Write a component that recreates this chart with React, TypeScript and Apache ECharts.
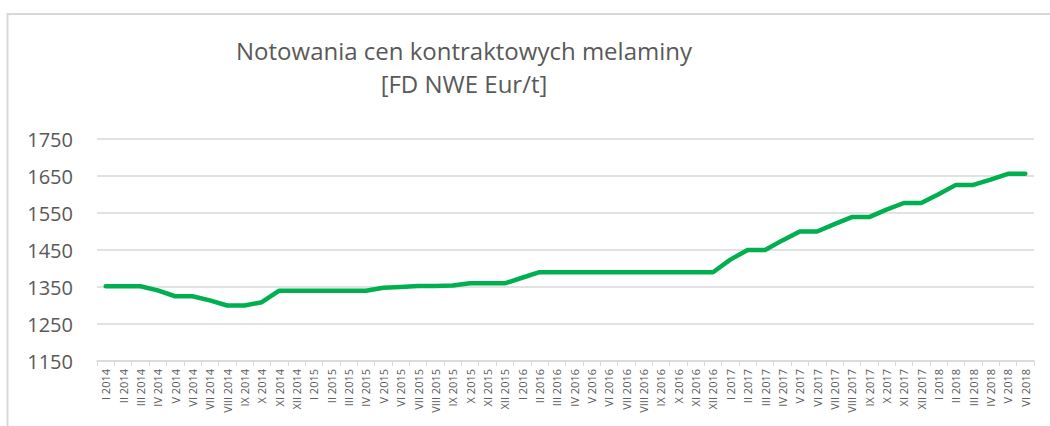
import React, { useEffect, useRef } from "react";
import * as echarts from "echarts";

const romanMonths = ["I", "II", "III", "IV", "V", "VI", "VII", "VIII", "IX", "X", "XI", "XII"];
const years = [2014, 2015, 2016, 2017, 2018];
const lastYearMonths = 6;

const categories: string[] = [];
years.forEach((y) => {
  const n = y === 2018 ? lastYearMonths : 12;
  for (let m = 0; m < n; m++) categories.push(`${romanMonths[m]} ${y}`);
});

const prices = [
  1352, 1352, 1352, 1341, 1325, 1325, 1314, 1300, 1300, 1309, 1340, 1340,
  1340, 1340, 1340, 1340, 1348, 1350, 1353, 1353, 1354, 1360, 1360, 1360,
  1375, 1390, 1390, 1390, 1390, 1390, 1390, 1390, 1390, 1390, 1390, 1390,
  1424, 1450, 1450, 1476, 1500, 1500, 1520, 1539, 1539, 1559, 1577, 1577,
  1601, 1626, 1626, 1640, 1656, 1656,
];

const yMin = 1150;
const yMax = 1750;
const yStep = 100;

const titleLines = ["Notowania cen kontraktowych melaminy", "[FD NWE Eur/t]"];

export default function App() {
  const ref = useRef<HTMLDivElement>(null);

  useEffect(() => {
    document.body.style.margin = "0";
    if (!ref.current) return;
    const chart = echarts.init(ref.current, undefined, { renderer: "svg" });
    chart.setOption({
      animation: false,
      backgroundColor: "#ffffff",
      title: {
        text: titleLines.join("\n"),
        left: 464,
        top: 34,
        padding: 0,
        textAlign: "center",
        textStyle: {
          fontFamily: "Open Sans",
          fontSize: 24,
          fontWeight: "normal",
          color: "#595959",
          lineHeight: 33,
        },
      },
      graphic: [
        {
          type: "polyline",
          shape: { points: [[7.5, 426], [7.5, 14], [1050, 14]] },
          style: { stroke: "#d9d9d9", lineWidth: 2, fill: "none" },
          silent: true,
        },
      ],
      grid: { left: 97, right: 16, top: 139, bottom: 65 },
      xAxis: {
        type: "category",
        data: categories,
        boundaryGap: true,
        axisLine: { lineStyle: { color: "#d9d9d9", width: 1.5 } },
        axisTick: { show: true, length: 5, interval: 0, lineStyle: { color: "#d9d9d9" } },
        axisLabel: {
          interval: 0,
          rotate: 90,
          margin: 8,
          fontFamily: "Open Sans",
          fontSize: 11,
          color: "#595959",
        },
      },
      yAxis: {
        type: "value",
        min: yMin,
        max: yMax,
        interval: yStep,
        axisLine: { show: false },
        axisTick: { show: false },
        splitLine: { lineStyle: { color: "#d9d9d9", width: 1.5 } },
        axisLabel: {
          margin: 24,
          fontFamily: "Open Sans",
          fontSize: 20,
          color: "#595959",
          formatter: (v: number) => String(v),
        },
      },
      series: [
        {
          type: "line",
          data: prices,
          symbol: "none",
          lineStyle: { color: "#00b050", width: 4.5, cap: "round", join: "round" },
        },
      ],
    });
    return () => chart.dispose();
  }, []);

  return <div ref={ref} style={{ width: 1050, height: 426 }} />;
}
